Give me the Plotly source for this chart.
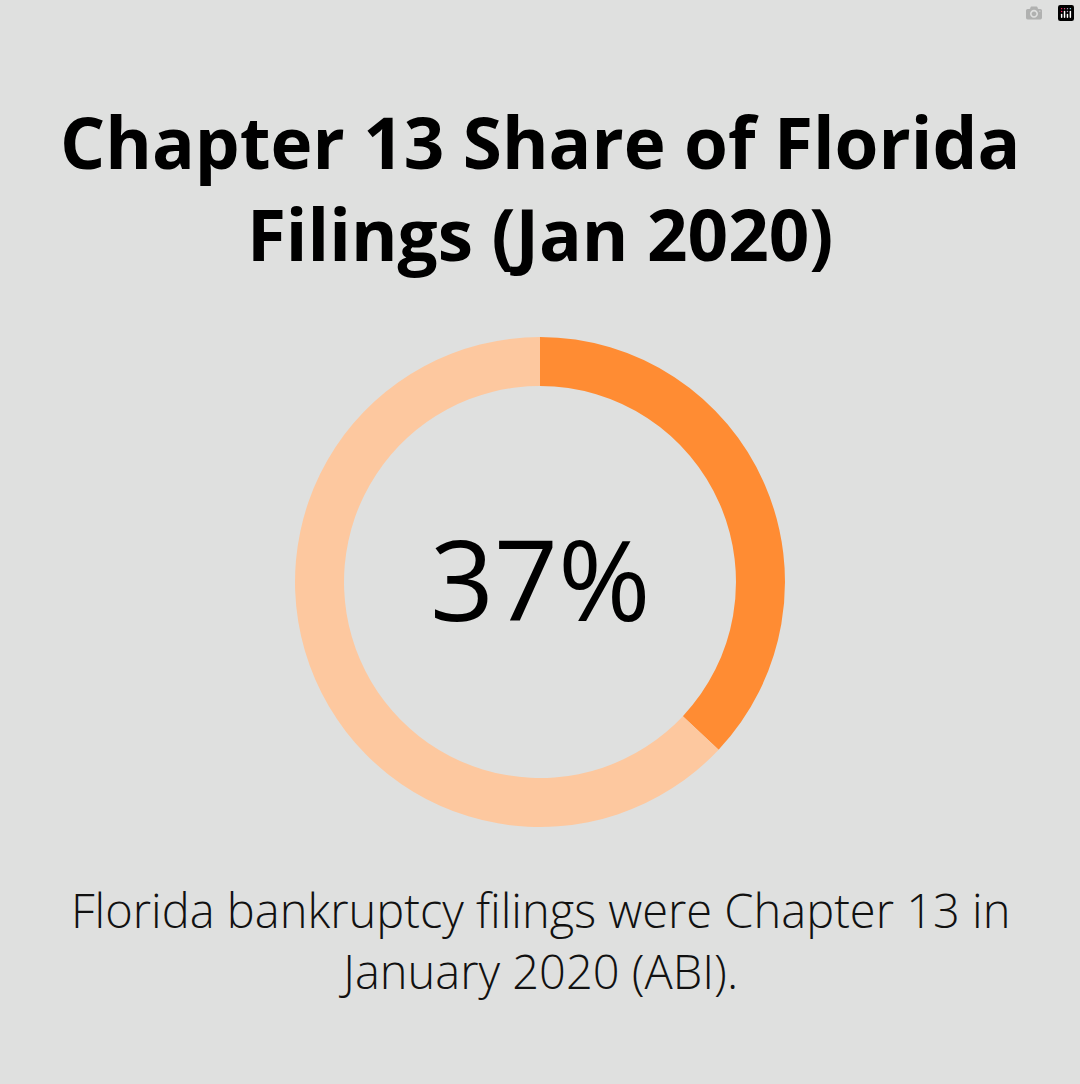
import plotly.graph_objects as go

labels = ["Chapter 13", "Other chapters"]
values = [37, 63]
colors = ["#ff8c33", "#fdc89f"]

fig = go.Figure(go.Pie(
    labels=labels, values=values, hole=0.8, sort=False, direction="clockwise",
    rotation=0, marker=dict(colors=colors, line=dict(width=0)),
    textinfo="none", hoverinfo="label+percent", showlegend=False,
    domain=dict(x=[0.2731, 0.7269], y=[0.2371, 0.6891]),
))

fig.add_annotation(text="Chapter 13 Share of Florida<br>Filings (Jan 2020)", x=0.5, y=1 - 188/1084,
                   xref="paper", yref="paper", showarrow=False, yanchor="middle",
                   font=dict(family="Open Sans", size=71, color="#000000", weight="bold"))
fig.add_annotation(text=f"{values[0]}%", x=0.5, y=1 - 577/1084, xref="paper", yref="paper",
                   showarrow=False, yanchor="middle",
                   font=dict(family="Open Sans", size=112, color="#000000"))
fig.add_annotation(text="Florida bankruptcy filings were Chapter 13 in<br>January 2020 (ABI).",
                   x=0.5, y=1 - 940/1084, xref="paper", yref="paper", showarrow=False,
                   yanchor="middle",
                   font=dict(family="Open Sans", size=47, color="#111111", weight=300))

fig.update_layout(width=1080, height=1084, margin=dict(l=0, r=0, t=0, b=0),
                  paper_bgcolor="#dfe0df", plot_bgcolor="#dfe0df")
fig.write_html("out.html", post_script="document.body.style.margin='0';")
